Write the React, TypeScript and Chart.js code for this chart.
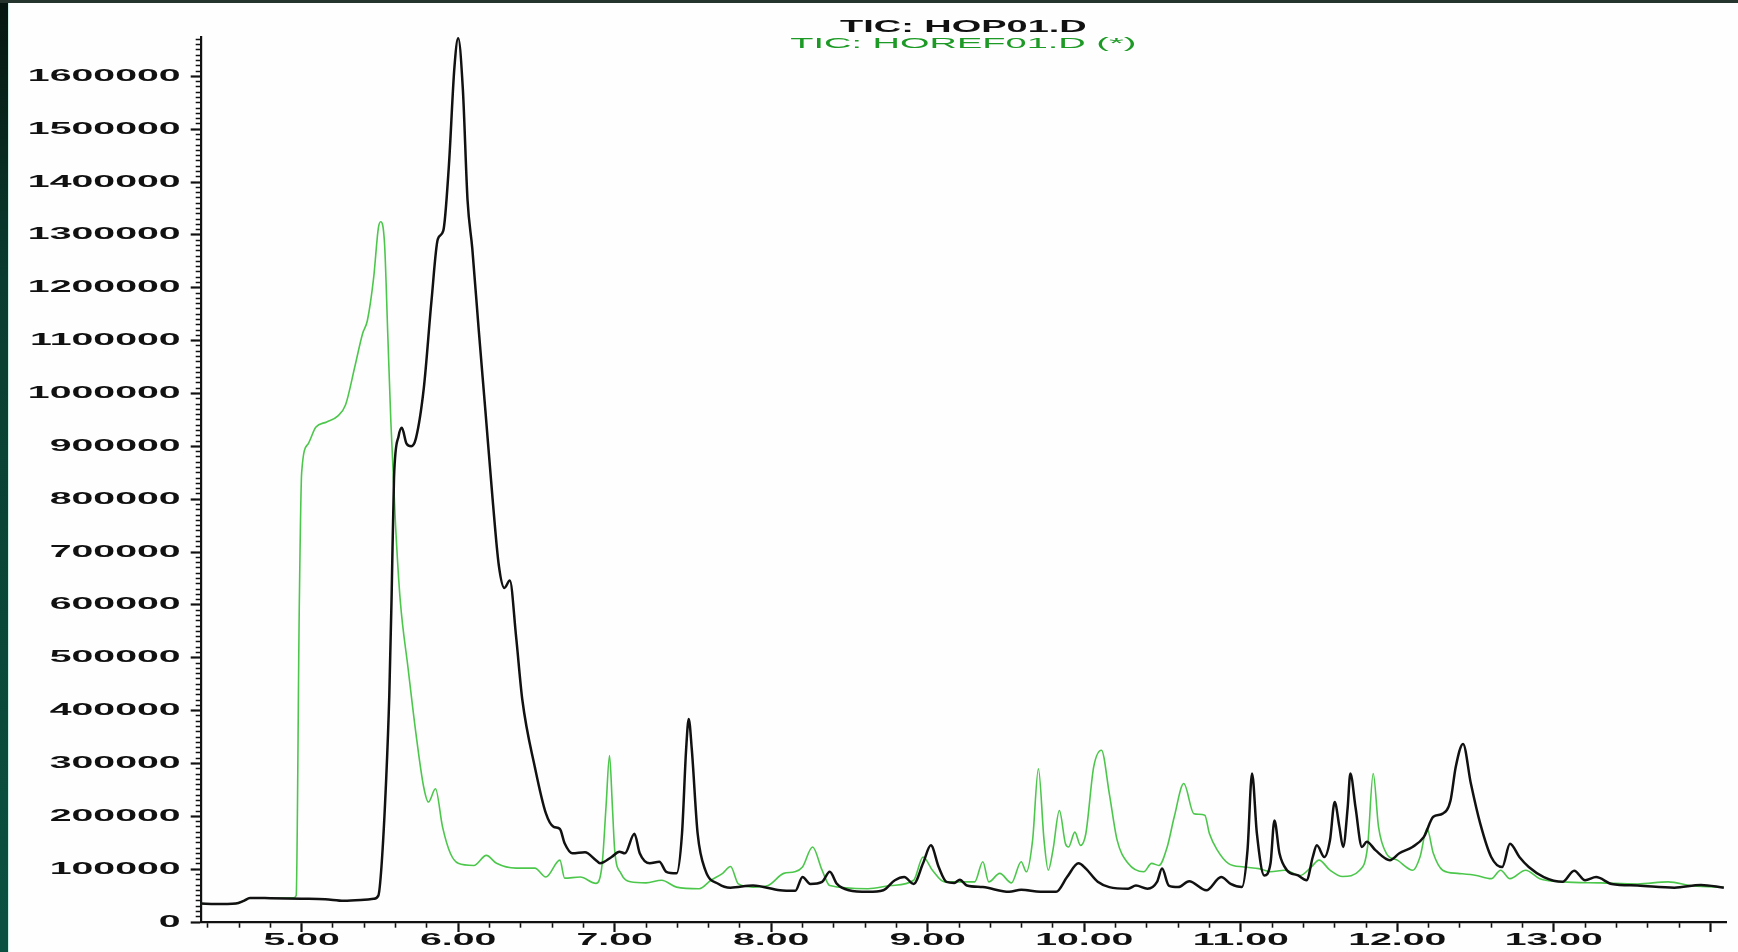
import React, { useEffect, useRef } from 'react';
import { Chart, registerables } from 'chart.js';

Chart.register(...registerables);

// ---- data (retention time in minutes, abundance) ----
const blackTimes = [
  4.355, 4.45, 4.58, 4.63, 4.67, 4.8, 5.0, 5.15, 5.27, 5.4, 5.46, 5.49, 5.51, 5.54, 5.56, 5.575, 5.59, 5.62, 5.64,
  5.67, 5.7, 5.73, 5.78, 5.83, 5.87, 5.905, 5.94, 5.976, 6.0, 6.03, 6.06, 6.09, 6.13, 6.174, 6.22, 6.26, 6.295,
  6.33, 6.37, 6.41, 6.49, 6.56, 6.61, 6.65, 6.68, 6.73, 6.81, 6.88, 6.906, 6.98, 7.03, 7.065, 7.126, 7.16, 7.224,
  7.285, 7.33, 7.395, 7.43, 7.456, 7.473, 7.493, 7.53, 7.579, 7.664, 7.74, 7.884, 8.056, 8.154, 8.2, 8.25, 8.325,
  8.374, 8.42, 8.496, 8.618, 8.716, 8.79, 8.85, 8.91, 8.97, 9.02, 9.07, 9.12, 9.17, 9.205, 9.25, 9.352, 9.52,
  9.597, 9.72, 9.82, 9.89, 9.963, 10.01, 10.086, 10.16, 10.28, 10.33, 10.404, 10.465, 10.497, 10.54, 10.6, 10.67,
  10.78, 10.875, 10.935, 11.007, 11.043, 11.072, 11.103, 11.15, 11.19, 11.215, 11.247, 11.295, 11.366, 11.42,
  11.46, 11.486, 11.534, 11.57, 11.6, 11.63, 11.654, 11.683, 11.7, 11.733, 11.774, 11.805, 11.86, 11.953, 12.013,
  12.097, 12.17, 12.23, 12.29, 12.34, 12.373, 12.42, 12.47, 12.53, 12.6, 12.67, 12.72, 12.78, 12.84, 12.936,
  13.056, 13.13, 13.2, 13.27, 13.37, 13.535, 13.77, 13.94, 14.086,
];
const blackValues = [
  35000, 34000, 35000, 40000, 45500, 45000, 44000, 43000, 40000, 42000, 44000, 50000, 105000, 270000, 430000,
  620000, 840000, 920000, 935000, 905000, 900000, 915000, 1009000, 1177000, 1292000, 1308000, 1428000, 1617000,
  1672000, 1575000, 1365000, 1275000, 1125000, 967000, 800000, 674000, 632000, 646000, 540000, 420000, 293000,
  206000, 180000, 176000, 149000, 130000, 132000, 117000, 111000, 123000, 133000, 130000, 167000, 130000, 111000,
  114000, 95000, 92000, 167000, 325000, 384000, 325000, 167000, 98000, 72000, 65000, 69000, 60000, 59000, 85000,
  72000, 76000, 95000, 72000, 60000, 57000, 60000, 79000, 85000, 72000, 111000, 145000, 104000, 76000, 74000,
  80000, 69000, 66000, 57000, 61000, 57000, 57000, 85000, 111000, 101000, 76000, 66000, 63000, 69000, 63000,
  76000, 101000, 69000, 66000, 77000, 60000, 85000, 72000, 66000, 136000, 281000, 167000, 88000, 111000, 192000,
  130000, 98000, 88000, 79000, 123000, 145000, 123000, 155000, 227000, 180000, 142000, 217000, 281000, 217000,
  142000, 152000, 136000, 117000, 130000, 142000, 161000, 199000, 205000, 230000, 293000, 337000, 262000,
  186000, 123000, 104000, 148000, 123000, 104000, 85000, 76000, 97000, 79000, 85000, 72000, 69000, 65000, 70000,
  65000,
];

const greenTimes = [
  4.355, 4.45, 4.58, 4.63, 4.67, 4.8, 4.95, 4.965, 4.985, 5.0, 5.04, 5.09, 5.16, 5.23, 5.28, 5.34, 5.39, 5.42,
  5.46, 5.49, 5.505, 5.53, 5.55, 5.57, 5.6, 5.63, 5.68, 5.73, 5.78, 5.81, 5.855, 5.9, 5.95, 6.0, 6.1, 6.18, 6.245,
  6.37, 6.49, 6.56, 6.65, 6.68, 6.78, 6.88, 6.92, 6.945, 6.967, 6.985, 7.0, 7.04, 7.1, 7.2, 7.3, 7.395, 7.54, 7.615,
  7.69, 7.74, 7.79, 7.884, 7.98, 8.08, 8.15, 8.2, 8.264, 8.325, 8.374, 8.618, 8.765, 8.91, 8.97, 9.03, 9.107, 9.23,
  9.3, 9.352, 9.39, 9.46, 9.535, 9.597, 9.63, 9.67, 9.707, 9.743, 9.77, 9.8, 9.841, 9.88, 9.9, 9.94, 9.976, 10.01,
  10.06, 10.11, 10.16, 10.21, 10.28, 10.38, 10.43, 10.477, 10.53, 10.575, 10.636, 10.7, 10.77, 10.8, 10.85, 10.92,
  11.02, 11.115, 11.19, 11.28, 11.38, 11.45, 11.5, 11.57, 11.65, 11.76, 11.81, 11.846, 11.88, 11.93, 12.0, 12.1,
  12.145, 12.19, 12.23, 12.29, 12.385, 12.505, 12.6, 12.66, 12.72, 12.82, 12.91, 13.056, 13.3, 13.535, 13.73,
  13.89, 14.086,
];
const greenValues = [
  35000, 34000, 35000, 40000, 45500, 45000, 46000, 50000, 600000, 850000, 904000, 936000, 946000, 957000, 978000,
  1051000, 1114000, 1138000, 1219000, 1313000, 1325000, 1281000, 1114000, 946000, 750000, 608000, 480000, 357000,
  255000, 227000, 252000, 180000, 130000, 111000, 107000, 126000, 111000, 102000, 102000, 85000, 117000, 83000,
  85000, 73000, 110000, 220000, 315000, 220000, 136000, 92000, 76000, 74000, 79000, 66000, 63000, 79000, 92000,
  105000, 72000, 66000, 69000, 92000, 95000, 104000, 142000, 98000, 69000, 63000, 69000, 79000, 123000, 98000,
  76000, 76000, 76000, 114000, 76000, 92000, 74000, 114000, 95000, 155000, 290000, 155000, 98000, 136000, 211000,
  148000, 142000, 170000, 145000, 167000, 293000, 325000, 243000, 155000, 111000, 95000, 111000, 107000, 142000,
  199000, 262000, 205000, 202000, 167000, 136000, 111000, 104000, 101000, 95000, 98000, 88000, 104000, 117000,
  98000, 86000, 98000, 142000, 281000, 180000, 130000, 117000, 98000, 123000, 177000, 130000, 98000, 92000, 88000,
  82000, 98000, 82000, 98000, 82000, 76000, 74000, 72000, 76000, 68000, 66000,
];

// ---- axes / text ----
const titleLines = ['TIC: HOP01.D', 'TIC: HOREF01.D (*)'];
const xTickValues = [5, 6, 7, 8, 9, 10, 11, 12, 13];
const xTickLabels = ['5.00', '6.00', '7.00', '8.00', '9.00', '10.00', '11.00', '12.00', '13.00'];
const yTickValues = [0, 100000, 200000, 300000, 400000, 500000, 600000, 700000, 800000, 900000, 1000000, 1100000,
  1200000, 1300000, 1400000, 1500000, 1600000];
const yTickLabels = ['0', '100000', '200000', '300000', '400000', '500000', '600000', '700000', '800000', '900000',
  '1000000', '1100000', '1200000', '1300000', '1400000', '1500000', '1600000'];

const X_MIN = 4.355;
const X_MAX = 14.1;
const Y_MAX = 1675000;

const BLACK = '#111111';
const GREEN_LINE = '#4cc74c';
const GREEN_TEXT = '#1d9a25';
const SX = 2.38;
const SX_GREEN = 2.45;
const FONT = '"Liberation Sans", Arial, sans-serif';

function buildXTicks(): { value: number }[] {
  const out: { value: number }[] = [];
  for (let i = 22; i <= 70; i++) out.push({ value: Math.round(i * 2) / 10 });
  return out;
}
function buildYTicks(): { value: number }[] {
  const out: { value: number }[] = [];
  for (let i = 0; i <= 167; i++) out.push({ value: i * 10000 });
  return out;
}
const isMajorX = (v: number) => Math.abs(v - Math.round(v)) < 1e-6;
const isMajorY = (v: number) => v % 100000 === 0;

function drawStretched(ctx: CanvasRenderingContext2D, text: string, x: number, y: number, align: CanvasTextAlign, sx: number) {
  ctx.save();
  ctx.translate(x, y);
  ctx.scale(sx, 1);
  ctx.textAlign = align;
  ctx.textBaseline = 'middle';
  ctx.fillText(text, 0, 0);
  ctx.restore();
}

const textPlugin = {
  id: 'stretchedText',
  afterDraw(chart: any) {
    const ctx: CanvasRenderingContext2D = chart.ctx;
    const xs = chart.scales.x;
    const ys = chart.scales.y;
    ctx.save();
    ctx.fillStyle = BLACK;
    ctx.font = `bold 16.5px ${FONT}`;
    yTickValues.forEach((v, i) => {
      drawStretched(ctx, yTickLabels[i], ys.right - 20, ys.getPixelForValue(v), 'right', SX);
    });
    xTickValues.forEach((v, i) => {
      drawStretched(ctx, xTickLabels[i], xs.getPixelForValue(v), xs.top + 18, 'center', SX);
    });
    const cx = (chart.chartArea.left + chart.chartArea.right) / 2;
    ctx.font = `bold 16.5px ${FONT}`;
    ctx.fillStyle = BLACK;
    drawStretched(ctx, titleLines[0], cx, 27.5, 'center', 2.3);
    ctx.font = `15.5px ${FONT}`;
    ctx.fillStyle = GREEN_TEXT;
    drawStretched(ctx, titleLines[1], cx, 44, 'center', SX_GREEN);
    ctx.restore();
  },
};

export default function App() {
  const canvasRef = useRef<HTMLCanvasElement | null>(null);

  useEffect(() => {
    const canvas = canvasRef.current;
    if (!canvas) return;
    const chart = new Chart(canvas, {
      type: 'line',
      data: {
        datasets: [
          {
            label: titleLines[0],
            data: blackTimes.map((t, i) => ({ x: t, y: blackValues[i] })),
            borderColor: BLACK,
            borderWidth: 2.5,
            pointRadius: 0,
            cubicInterpolationMode: 'monotone',
            fill: false,
          },
          {
            label: titleLines[1],
            data: greenTimes.map((t, i) => ({ x: t, y: greenValues[i] })),
            borderColor: GREEN_LINE,
            borderWidth: 1.6,
            pointRadius: 0,
            cubicInterpolationMode: 'monotone',
            fill: false,
          },
        ],
      },
      options: {
        animation: false,
        responsive: false,
        devicePixelRatio: 1,
        layout: { padding: { top: 36.7, right: 12, left: 0, bottom: 0 } },
        plugins: { legend: { display: false }, tooltip: { enabled: false }, title: { display: false } },
        events: [],
        scales: {
          x: {
            type: 'linear',
            position: 'bottom',
            min: X_MIN,
            max: X_MAX,
            afterBuildTicks: (scale: any) => { scale.ticks = buildXTicks(); },
            afterFit: (scale: any) => { scale.height = 30; },
            ticks: { display: false },
            grid: {
              display: true,
              drawOnChartArea: false,
              drawTicks: true,
              tickLength: 10,
              tickColor: BLACK,
              tickWidth: (c: any) => (c.tick && isMajorX(c.tick.value) ? 2.2 : 1.6),
              tickBorderDash: (c: any) => (c.tick && isMajorX(c.tick.value) ? [] : [4.5, 60]),
            },
            border: { display: true, color: BLACK, width: 2.2 },
          },
          y: {
            type: 'linear',
            position: 'left',
            min: 0,
            max: Y_MAX,
            afterBuildTicks: (scale: any) => { scale.ticks = buildYTicks(); },
            afterFit: (scale: any) => { scale.width = 200.7; },
            ticks: { display: false },
            grid: {
              display: true,
              drawOnChartArea: false,
              drawTicks: true,
              tickLength: 10,
              tickColor: BLACK,
              tickWidth: (c: any) => (c.tick && isMajorY(c.tick.value) ? 2.2 : 1.5),
              tickBorderDash: (c: any) => (c.tick && isMajorY(c.tick.value) ? [] : [0, 5, 5, 60]),
            },
            border: { display: true, color: BLACK, width: 2.2 },
          },
        },
      },
      plugins: [textPlugin],
    } as any);
    return () => chart.destroy();
  }, []);

  return (
    <div style={{ position: 'fixed', left: 0, top: 0, width: 1738, height: 952, background: '#fefefe', overflow: 'hidden' }}>
      <canvas ref={canvasRef} width={1738} height={952} style={{ position: 'absolute', left: 0, top: 0, width: 1738, height: 952 }} />
      <div style={{ position: 'absolute', left: 0, top: 0, width: 8, height: 952, background: 'linear-gradient(180deg, #06150f 0%, #0a3d30 30%, #0b5141 100%)' }} />
      <div style={{ position: 'absolute', left: 8, top: 0, width: 1, height: 952, background: '#cfeee6' }} />
      <div style={{ position: 'absolute', left: 0, top: 0, width: 1738, height: 3, background: '#26342e' }} />
    </div>
  );
}
